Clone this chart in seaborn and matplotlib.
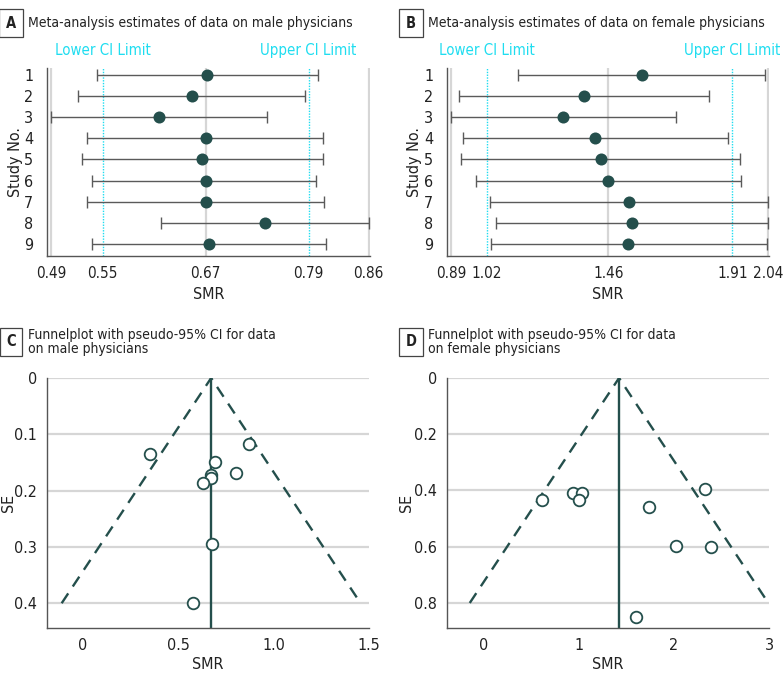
import numpy as np
import pandas as pd
import matplotlib
matplotlib.use("Agg")
import matplotlib.pyplot as plt
import seaborn as sns

# ---------------- data ----------------
studies = [1, 2, 3, 4, 5, 6, 7, 8, 9]

male_est = [0.672, 0.654, 0.616, 0.670, 0.666, 0.670, 0.670, 0.739, 0.674]
male_low = [0.544, 0.521, 0.490, 0.532, 0.526, 0.538, 0.532, 0.618, 0.538]
male_high = [0.801, 0.786, 0.741, 0.807, 0.807, 0.799, 0.808, 0.860, 0.810]
male_ticks = [0.49, 0.55, 0.67, 0.79, 0.86]
male_ci = [0.55, 0.79]

female_est = [1.582, 1.372, 1.297, 1.412, 1.434, 1.460, 1.536, 1.548, 1.533]
female_low = [1.134, 0.920, 0.891, 0.932, 0.927, 0.979, 1.033, 1.054, 1.036]
female_high = [2.029, 1.826, 1.707, 1.895, 1.937, 1.942, 2.040, 2.040, 2.034]
female_ticks = [0.89, 1.02, 1.46, 1.91, 2.04]
female_ci = [1.02, 1.91]

male_funnel_smr = [0.349, 0.870, 0.693, 0.800, 0.670, 0.672, 0.630, 0.679, 0.579]
male_funnel_se = [0.135, 0.118, 0.150, 0.169, 0.173, 0.178, 0.186, 0.295, 0.400]
male_pooled = 0.672
male_se_max = 0.40
male_xticks = [0, 0.5, 1.0, 1.5]
male_xticklabels = ["0", "0.5", "1.0", "1.5"]
male_yticks = [0, 0.1, 0.2, 0.3, 0.4]
male_yticklabels = ["0", "0.1", "0.2", "0.3", "0.4"]

female_funnel_smr = [0.621, 0.937, 1.032, 1.007, 2.330, 1.737, 2.018, 2.389, 1.600]
female_funnel_se = [0.434, 0.408, 0.408, 0.434, 0.394, 0.460, 0.599, 0.602, 0.850]
female_pooled = 1.425
female_se_max = 0.80
female_xticks = [0, 1, 2, 3]
female_xticklabels = ["0", "1", "2", "3"]
female_yticks = [0, 0.2, 0.4, 0.6, 0.8]
female_yticklabels = ["0", "0.2", "0.4", "0.6", "0.8"]

# ---------------- style ----------------
sns.set_theme(style="white")
plt.rcParams['font.family'] = ['DejaVu Sans']
plt.rcParams['font.stretch'] = 'condensed'

TEAL = "#244F4C"
CYAN = "#1FDDF0"
GRID = "#D6D6D6"
SPINE = "#555555"
BAR = "#5A5A5A"
TXT = "#222222"

fig = plt.figure(figsize=(7.83, 6.83), dpi=100)
W, H = 783.0, 683.0


def axes_px(l, t, r, b):
    return fig.add_axes([l / W, 1 - b / H, (r - l) / W, (b - t) / H])


def panel_label(x, y, letter, title):
    fig.text(x / W, 1 - y / H, letter, ha="center", va="center", fontsize=10.5,
             fontweight="bold", color=TXT,
             bbox=dict(boxstyle="square,pad=0.45", fc="white", ec="#444444", lw=0.9))
    fig.text((x + 17) / W, 1 - y / H, title, ha="left", va="center",
             fontsize=10.0, color=TXT, linespacing=1.05)


def style_spines(ax):
    for s in ["top", "right"]:
        ax.spines[s].set_visible(False)
    for s in ["left", "bottom"]:
        ax.spines[s].set_color(SPINE)
        ax.spines[s].set_linewidth(1.0)


def forest(ax, est, low, high, ticks, ci, xlim, ylab_x):
    df = pd.DataFrame({"study": studies, "est": est, "low": low, "high": high})
    ax.set_xlim(*xlim)
    ax.set_ylim(9.57, 0.67)
    for t in ticks:
        if t in ci:
            ax.axvline(t, color=CYAN, lw=1.0, ls=(0, (1, 1)), zorder=1)
        else:
            ax.axvline(t, color=GRID, lw=1.6, zorder=0)
    ax.errorbar(df["est"], df["study"],
                xerr=[df["est"] - df["low"], df["high"] - df["est"]],
                fmt="none", ecolor=BAR, elinewidth=1.0, capsize=4.5,
                capthick=1.0, zorder=2)
    sns.scatterplot(data=df, x="est", y="study", ax=ax, color=TEAL, s=75,
                    edgecolor=TEAL, linewidth=0, zorder=3, legend=False)
    ax.set_xticks(ticks)
    ax.set_xticklabels([f"{t:.2f}" for t in ticks])
    ax.set_yticks(studies)
    ax.set_yticklabels([str(s) for s in studies])
    ax.tick_params(axis="x", length=4, width=1, color=SPINE, labelsize=11,
                   labelcolor=TXT, pad=3)
    ax.tick_params(axis="y", length=0, labelsize=11.5, labelcolor=TXT, pad=10)
    ax.set_xlabel("SMR", fontsize=11.5, color=TXT)
    ax.set_ylabel("Study No.", fontsize=11.5, color=TXT)
    ax.xaxis.set_label_coords(0.5, -0.165)
    ax.yaxis.set_label_coords(ylab_x, 0.5)
    style_spines(ax)
    trans = ax.get_xaxis_transform()
    ax.text(ci[0], 1.095, "Lower CI Limit", transform=trans, ha="center",
            va="center", color=CYAN, fontsize=10.8, clip_on=False)
    ax.text(ci[1], 1.095, "Upper CI Limit", transform=trans, ha="center",
            va="center", color=CYAN, fontsize=10.8, clip_on=False)


def funnel(ax, smr, se, pooled, semax, xlim, ylim, xt, xtl, yt, ytl, ylab_x):
    df = pd.DataFrame({"SMR": smr, "SE": se})
    ax.set_xlim(*xlim)
    ax.set_ylim(*ylim)
    for t in yt:
        ax.axhline(t, color=GRID, lw=1.6, zorder=0)
    ax.plot([pooled - 1.96 * semax, pooled, pooled + 1.96 * semax],
            [semax, 0, semax], color=TEAL, lw=1.7, ls=(0, (5, 3.5)), zorder=2)
    ax.plot([pooled, pooled], [0, ylim[0]], color=TEAL, lw=1.7, zorder=2)
    sns.scatterplot(data=df, x="SMR", y="SE", ax=ax, s=70, facecolor="white",
                    edgecolor=TEAL, linewidth=1.3, zorder=3, legend=False)
    ax.set_xticks(xt)
    ax.set_xticklabels(xtl)
    ax.set_yticks(yt)
    ax.set_yticklabels(ytl)
    ax.tick_params(axis="both", length=4, width=1, color=SPINE, labelsize=11.5,
                   labelcolor=TXT, pad=3)
    ax.set_xlabel("SMR", fontsize=11.5, color=TXT)
    ax.set_ylabel("SE", fontsize=11.5, color=TXT)
    ax.xaxis.set_label_coords(0.5, -0.116)
    ax.yaxis.set_label_coords(ylab_x, 0.5)
    style_spines(ax)


# Panel A
axA = axes_px(47, 68, 370, 256)
forest(axA, male_est, male_low, male_high, male_ticks, male_ci, (0.4853, 0.8615), -0.074)
panel_label(11, 23, "A", "Meta-analysis estimates of data on male physicians")

# Panel B
axB = axes_px(447, 68, 769, 256)
forest(axB, female_est, female_low, female_high, female_ticks, female_ci,
       (0.8755, 2.043), -0.078)
panel_label(411, 23, "B", "Meta-analysis estimates of data on female physicians")

# Panel C
axC = axes_px(47, 378, 369, 628)
funnel(axC, male_funnel_smr, male_funnel_se, male_pooled, male_se_max,
       (-0.189, 1.5), (0.444, 0), male_xticks, male_xticklabels,
       male_yticks, male_yticklabels, -0.096)
panel_label(11, 342, "C", "Funnelplot with pseudo-95% CI for data\non male physicians")

# Panel D
axD = axes_px(447, 378, 769, 628)
funnel(axD, female_funnel_smr, female_funnel_se, female_pooled, female_se_max,
       (-0.382, 3.0), (0.889, 0), female_xticks, female_xticklabels,
       female_yticks, female_yticklabels, -0.102)
panel_label(411, 342, "D", "Funnelplot with pseudo-95% CI for data\non female physicians")

fig.savefig("out.png", dpi=100, facecolor="white")
